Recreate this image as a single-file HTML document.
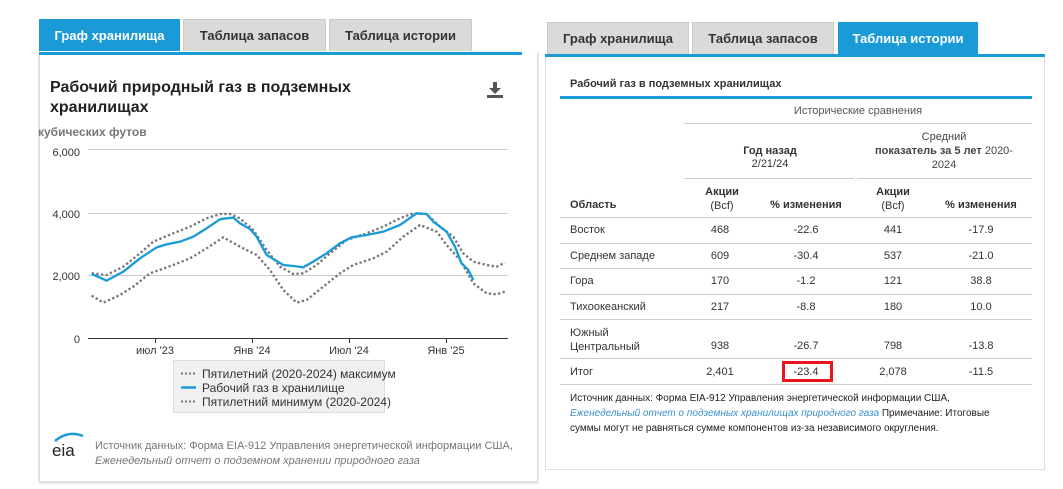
<!DOCTYPE html>
<html><head><meta charset="utf-8"><style>
*{margin:0;padding:0;box-sizing:border-box}
body{width:1063px;height:489px;background:#fff;position:relative;overflow:hidden;font-family:"Liberation Sans","DejaVu Sans",sans-serif}
.a{position:absolute;white-space:nowrap}
.tab{position:absolute;height:32px;background:#dadada;color:#333;font-weight:bold;font-size:13px;text-align:center;line-height:32px;border:1px solid #ccc;border-bottom:none}
.on{background:#1a9bd7;color:#fff;border-color:#1a9bd7}
.t{font-size:11px;color:#333;position:absolute;white-space:nowrap}
.c{text-align:center;transform:translateX(-50%)}
.hl{position:absolute;height:1px;background:#ccc}
</style></head><body>
<!-- left panel -->
<div class="a" style="left:39px;top:52px;width:499px;height:430px;border:1px solid #ddd;border-top:none;box-shadow:0 1px 2px #ccc"></div>
<div class="tab on" style="left:39px;top:19px;width:141px">Граф хранилища</div>
<div class="tab" style="left:183px;top:19px;width:143px">Таблица запасов</div>
<div class="tab" style="left:329px;top:19px;width:143px">Таблица истории</div>
<div class="a" style="left:39px;top:52px;width:483px;height:3px;background:#1a9bd7"></div>
<div class="a" style="left:50px;top:78px;font-size:16px;font-weight:bold;color:#222;line-height:20px">Рабочий природный газ в подземных<br>хранилищах</div>
<svg class="a" style="left:486px;top:80px" width="20" height="20"><path d="M7 2h4v6h4l-6 6-6-6h4z" fill="#555"/><rect x="1" y="15" width="16" height="3" fill="#555"/></svg>
<div class="a" style="left:38px;top:125px;font-size:12px;font-weight:bold;color:#777">кубических футов</div>
<svg class="a" style="left:0;top:0" width="540" height="489">
<g font-size="11" fill="#333" text-anchor="end">
<text x="80" y="156">6,000</text><text x="80" y="218">4,000</text><text x="80" y="280">2,000</text><text x="80" y="343">0</text></g>
<g stroke="#ccc"><line x1="88" y1="149.5" x2="508" y2="149.5"/><line x1="88" y1="213.5" x2="508" y2="213.5"/><line x1="88" y1="275.5" x2="508" y2="275.5"/></g>
<line x1="88" y1="338.5" x2="508" y2="338.5" stroke="#333"/>
<g stroke="#333"><line x1="155.5" y1="338" x2="155.5" y2="343"/><line x1="252.5" y1="338" x2="252.5" y2="343"/><line x1="349.5" y1="338" x2="349.5" y2="343"/><line x1="446.5" y1="338" x2="446.5" y2="343"/></g>
<g font-size="11" fill="#333" text-anchor="middle"><text x="155" y="354">июл '23</text><text x="252" y="354">Янв '24</text><text x="349" y="354">Июл '24</text><text x="446" y="354">Янв '25</text></g>
<g transform="translate(40,130) scale(0.3333)" fill="none">
<polyline stroke="#777" stroke-width="7" stroke-dasharray="7 7" points="155,430 200,435 250,410 300,370 340,335 400,310 450,290 500,265 540,252 570,252 600,265 640,300 680,360 720,410 760,432 790,430 830,405 870,370 920,330 980,310 1030,290 1080,265 1120,250 1160,252 1200,290 1240,320 1270,370 1300,395 1340,405 1370,410 1395,398"/>
<polyline stroke="#777" stroke-width="7" stroke-dasharray="7 7" points="155,497 190,518 240,495 280,470 330,430 400,405 450,385 500,355 550,322 600,350 650,375 690,420 730,480 770,518 800,510 850,470 900,430 940,405 1000,385 1040,365 1090,320 1140,285 1190,305 1220,345 1260,390 1300,460 1340,490 1370,493 1395,485"/>
<polyline stroke="#1a9bd7" stroke-width="7" stroke-linejoin="round" points="155,432 200,452 250,425 300,385 350,352 380,343 420,335 460,320 500,295 540,268 560,265 580,263 600,280 630,297 650,320 680,375 710,393 730,405 760,408 790,412 820,395 860,370 900,340 935,322 980,315 1030,305 1080,285 1130,250 1160,252 1180,275 1220,305 1245,350 1265,400 1285,420 1300,450"/>
</g>
<rect x="173.5" y="360.5" width="211" height="52" fill="#f0f0f0" stroke="#ddd"/>
<line x1="181" y1="373.5" x2="196" y2="373.5" stroke="#777" stroke-width="2" stroke-dasharray="2 2"/>
<line x1="181" y1="387.5" x2="196" y2="387.5" stroke="#1a9bd7" stroke-width="2.5"/>
<line x1="181" y1="401.5" x2="196" y2="401.5" stroke="#777" stroke-width="2" stroke-dasharray="2 2"/>
<g font-size="12" fill="#333"><text x="202" y="378">Пятилетний (2020-2024) максимум</text><text x="202" y="392">Рабочий газ в хранилище</text><text x="202" y="406">Пятилетний минимум (2020-2024)</text></g>
<path d="M55 441 Q68 430 83 436" stroke="#1a9bd7" stroke-width="2.5" fill="none"/>
<text x="52" y="456" font-size="17" fill="#222">eia</text>
<text x="95" y="449" font-size="11" fill="#777">Источник данных: Форма EIA-912 Управления энергетической информации США,</text>
<text x="95" y="464" font-size="11" fill="#777" font-style="italic">Еженедельный отчет о подземном хранении природного газа</text>
</svg>
<!-- right panel -->
<div class="a" style="left:545px;top:55px;width:500px;height:415px;border:1px solid #ddd;border-top:none"></div>
<div class="tab" style="left:547px;top:22px;width:142px">Граф хранилища</div>
<div class="tab" style="left:692px;top:22px;width:142px">Таблица запасов</div>
<div class="tab on" style="left:838px;top:22px;width:140px">Таблица истории</div>
<div class="a" style="left:545px;top:54px;width:500px;height:3px;background:#1a9bd7"></div>
<div class="t" style="left:570px;top:78px;font-weight:bold">Рабочий газ в подземных хранилищах</div>
<div class="a" style="left:560px;top:96px;width:472px;height:3px;background:#1a9bd7"></div>
<div class="t c" style="left:858px;top:105px;color:#555">Исторические сравнения</div>
<div class="hl" style="left:684px;top:123px;width:348px"></div>
<div class="t c" style="left:770px;top:145px;text-align:center;line-height:13px"><b>Год назад</b><br>2/21/24</div>
<div class="t c" style="left:944px;top:130px;text-align:center;line-height:14px;color:#444">Средний<br><b>показатель за 5 лет</b> 2020-<br>2024</div>
<div class="hl" style="left:684px;top:178px;width:170px"></div>
<div class="hl" style="left:857px;top:178px;width:175px"></div>
<div class="t" style="left:570px;top:199px;font-weight:bold">Область</div>
<div class="t c" style="left:722px;top:185px;text-align:center;line-height:14px"><b>Акции</b><br>(Bcf)</div>
<div class="t c" style="left:806px;top:199px;font-weight:bold">% изменения</div>
<div class="t c" style="left:893px;top:185px;text-align:center;line-height:14px"><b>Акции</b><br>(Bcf)</div>
<div class="t c" style="left:981px;top:199px;font-weight:bold">% изменения</div>
<div class="hl" style="left:560px;top:217px;width:472px"></div>
<div class="hl" style="left:560px;top:243px;width:472px"></div>
<div class="hl" style="left:560px;top:268px;width:472px"></div>
<div class="hl" style="left:560px;top:294px;width:472px"></div>
<div class="hl" style="left:560px;top:319px;width:472px"></div>
<div class="hl" style="left:560px;top:358px;width:472px"></div>
<div class="hl" style="left:560px;top:384px;width:472px"></div>
<div class="t" style="left:570px;top:224px">Восток</div><div class="t c" style="left:720px;top:224px">468</div><div class="t c" style="left:806px;top:224px">-22.6</div><div class="t c" style="left:893px;top:224px">441</div><div class="t c" style="left:981px;top:224px">-17.9</div>
<div class="t" style="left:570px;top:250px">Среднем западе</div><div class="t c" style="left:720px;top:250px">609</div><div class="t c" style="left:806px;top:250px">-30.4</div><div class="t c" style="left:893px;top:250px">537</div><div class="t c" style="left:981px;top:250px">-21.0</div>
<div class="t" style="left:570px;top:275px">Гора</div><div class="t c" style="left:720px;top:275px">170</div><div class="t c" style="left:806px;top:275px">-1.2</div><div class="t c" style="left:893px;top:275px">121</div><div class="t c" style="left:981px;top:275px">38.8</div>
<div class="t" style="left:570px;top:301px">Тихоокеанский</div><div class="t c" style="left:720px;top:301px">217</div><div class="t c" style="left:806px;top:301px">-8.8</div><div class="t c" style="left:893px;top:301px">180</div><div class="t c" style="left:981px;top:301px">10.0</div>
<div class="t" style="left:570px;top:326px;line-height:14px">Южный<br>Центральный</div><div class="t c" style="left:720px;top:340px">938</div><div class="t c" style="left:806px;top:340px">-26.7</div><div class="t c" style="left:893px;top:340px">798</div><div class="t c" style="left:981px;top:340px">-13.8</div>
<div class="t" style="left:570px;top:366px">Итог</div><div class="t c" style="left:720px;top:366px">2,401</div><div class="t c" style="left:806px;top:366px">-23.4</div><div class="t c" style="left:893px;top:366px">2,078</div><div class="t c" style="left:981px;top:366px">-11.5</div>
<div class="a" style="left:782px;top:361px;width:51px;height:21px;border:3px solid #e8141e"></div>
<div class="a" style="left:570px;top:391px;font-size:10px;line-height:15px;color:#222">Источник данных: Форма EIA-912 Управления энергетической информации США,<br><i style="color:#3a8fc8">Еженедельный отчет о подземных хранилищах природного газа</i> Примечание: Итоговые<br>суммы могут не равняться сумме компонентов из-за независимого округления.</div>
</body></html>
